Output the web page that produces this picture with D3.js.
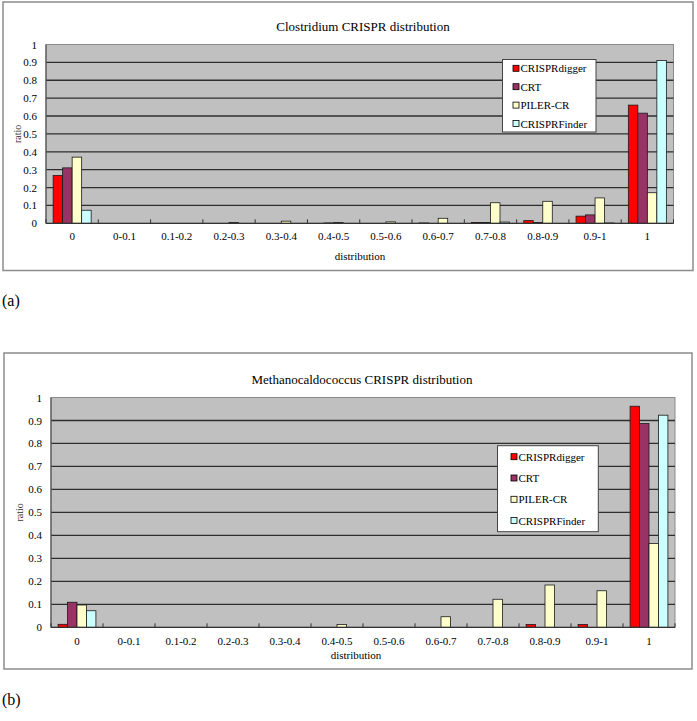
<!DOCTYPE html>
<html>
<head>
<meta charset="utf-8">
<script src="https://cdnjs.cloudflare.com/ajax/libs/d3/7.8.5/d3.min.js"></script>
<style>
  body { margin: 0; background: #ffffff; }
  svg { display: block; }
  svg text { font-family: "Liberation Serif", "DejaVu Serif", serif; }
</style>
</head>
<body>
<div id="main"></div>
<script>
// categories on the x axis (shared by both panels)
const categories = ['0', '0-0.1', '0.1-0.2', '0.2-0.3', '0.3-0.4', '0.4-0.5',
                    '0.5-0.6', '0.6-0.7', '0.7-0.8', '0.8-0.9', '0.9-1', '1'];
const seriesNames = ['CRISPRdigger', 'CRT', 'PILER-CR', 'CRISPRFinder'];
const seriesColors = ['#ff0000', '#993366', '#ffffcc', '#ccffff'];

// (a) Clostridium
const clostridiumDigger = [0.267, 0, 0, 0, 0, 0, 0, 0.002, 0.005, 0.015, 0.04, 0.661];
const clostridiumCrt    = [0.31, 0, 0, 0, 0, 0.002, 0, 0, 0.005, 0.005, 0.047, 0.616];
const clostridiumPiler  = [0.37, 0, 0, 0.005, 0.012, 0.005, 0.008, 0.028, 0.115, 0.123, 0.142, 0.171];
const clostridiumFinder = [0.073, 0, 0, 0, 0, 0, 0, 0, 0.007, 0, 0.002, 0.91];

// (b) Methanocaldococcus
const methanoDigger = [0.013, 0, 0, 0, 0, 0, 0, 0, 0, 0.012, 0.012, 0.962];
const methanoCrt    = [0.109, 0, 0, 0, 0, 0, 0, 0, 0, 0, 0, 0.887];
const methanoPiler  = [0.097, 0, 0, 0, 0, 0.012, 0, 0.046, 0.122, 0.184, 0.159, 0.365];
const methanoFinder = [0.072, 0, 0, 0, 0, 0, 0, 0, 0, 0, 0, 0.923];

const FONT = '"Liberation Serif", "DejaVu Serif", serif';

const svg = d3.select('#main').append('svg')
  .attr('width', 697)
  .attr('height', 721);

function drawPanel(p) {
  const g = svg.append('g');

  g.append('rect')
    .attr('x', p.frame[0]).attr('y', p.frame[1])
    .attr('width', p.frame[2] - p.frame[0])
    .attr('height', p.frame[3] - p.frame[1])
    .attr('fill', '#ffffff')
    .attr('stroke', '#8c8c8c')
    .attr('stroke-width', 1.5);

  const x = d3.scaleBand().domain(categories).range([p.left, p.right]);
  const xs = d3.scaleBand().domain(seriesNames)
    .range([0, x.bandwidth()])
    .paddingOuter(0.75);
  const y = d3.scaleLinear().domain([0, 1]).range([p.bottom, p.top]);

  // plot area
  g.append('rect')
    .attr('x', p.left).attr('y', p.top)
    .attr('width', p.right - p.left)
    .attr('height', p.bottom - p.top)
    .attr('fill', '#c0c0c0')
    .attr('stroke', '#8a8a8a')
    .attr('stroke-width', 1);

  g.selectAll('.grid')
    .data(y.ticks(10).filter(d => d > 0 && d < 1))
    .enter().append('line')
      .attr('class', 'grid')
      .attr('x1', p.left).attr('x2', p.right)
      .attr('y1', d => y(d)).attr('y2', d => y(d))
      .attr('stroke', '#2e2e2e')
      .attr('stroke-width', 1.3);

  // bars
  const rows = [];
  p.series.forEach((vals, si) => {
    vals.forEach((v, ci) => rows.push({ s: seriesNames[si], c: categories[ci], v, color: seriesColors[si] }));
  });
  g.selectAll('.bar')
    .data(rows.filter(d => d.v > 0))
    .enter().append('rect')
      .attr('class', 'bar')
      .attr('x', d => x(d.c) + xs(d.s))
      .attr('y', d => y(d.v))
      .attr('width', xs.bandwidth())
      .attr('height', d => y(0) - y(d.v))
      .attr('fill', d => d.color)
      .attr('stroke', '#1a1a1a')
      .attr('stroke-width', 0.8);

  // axis lines
  g.append('line')
    .attr('x1', p.left).attr('x2', p.right)
    .attr('y1', y(0)).attr('y2', y(0))
    .attr('stroke', '#333333').attr('stroke-width', 1.3);
  g.append('line')
    .attr('x1', p.left).attr('x2', p.left)
    .attr('y1', p.top).attr('y2', p.bottom)
    .attr('stroke', '#555555').attr('stroke-width', 1.2);
  g.selectAll('.xtick')
    .data(d3.range(categories.length + 1))
    .enter().append('line')
      .attr('class', 'xtick')
      .attr('x1', i => p.left + i * x.step())
      .attr('x2', i => p.left + i * x.step())
      .attr('y1', y(0) - 4).attr('y2', y(0))
      .attr('stroke', '#333333').attr('stroke-width', 1);

  const yAxis = g.append('g')
    .attr('transform', `translate(${p.left},0)`)
    .call(d3.axisLeft(y).ticks(10).tickSize(0).tickPadding(9).tickFormat(d3.format('~g')));
  yAxis.attr('font-family', null);
  yAxis.select('.domain').remove();
  yAxis.selectAll('text')
    .style('font-family', FONT).attr('font-size', 11).attr('fill', '#000');

  const xAxis = g.append('g')
    .attr('transform', `translate(0,${p.bottom})`)
    .call(d3.axisBottom(x).tickSize(0).tickPadding(p.xPad));
  xAxis.attr('font-family', null);
  xAxis.select('.domain').remove();
  xAxis.selectAll('text')
    .style('font-family', FONT).attr('font-size', 11).attr('fill', '#000');

  // titles
  g.append('text')
    .attr('x', p.titleX).attr('y', p.titleY)
    .attr('text-anchor', 'middle')
    .style('font-family', FONT).attr('font-size', 13)
    .text(p.title);
  g.append('text')
    .attr('x', p.xLabelX).attr('y', p.xLabelY)
    .attr('text-anchor', 'middle')
    .style('font-family', FONT).attr('font-size', 11)
    .text('distribution');
  g.append('text')
    .attr('transform', `translate(${p.yLabelX},${(p.top + p.bottom) / 2}) rotate(-90)`)
    .attr('text-anchor', 'middle')
    .style('font-family', FONT).attr('font-size', 10)
    .attr('fill', '#333')
    .text('ratio');

  // legend
  const lg = g.append('g');
  lg.append('rect')
    .attr('x', p.legend[0]).attr('y', p.legend[1])
    .attr('width', p.legend[2] - p.legend[0])
    .attr('height', p.legend[3] - p.legend[1])
    .attr('fill', '#ffffff')
    .attr('stroke', '#444')
    .attr('stroke-width', 1);
  const item = lg.selectAll('.legend-item')
    .data(seriesNames)
    .enter().append('g')
      .attr('class', 'legend-item')
      .attr('transform', (d, i) => `translate(${p.legendSwatchX},${p.legendRow0 + i * p.legendStep})`);
  item.append('rect')
    .attr('x', 0).attr('y', -3).attr('width', 6).attr('height', 6)
    .attr('fill', (d, i) => seriesColors[i])
    .attr('stroke', '#000').attr('stroke-width', 0.8);
  item.append('text')
    .attr('x', 7.5).attr('y', 4)
    .style('font-family', FONT).attr('font-size', 11)
    .text(d => d);

  g.append('text')
    .attr('x', 2).attr('y', p.tagY)
    .style('font-family', FONT).attr('font-size', 16)
    .text(p.tag);
}

drawPanel({
  title: 'Clostridium CRISPR distribution',
  tag: '(a)', tagY: 306,
  series: [clostridiumDigger, clostridiumCrt, clostridiumPiler, clostridiumFinder],
  frame: [3, 2, 693, 270.5],
  left: 46, right: 673.5, top: 44.5, bottom: 223.3,
  titleX: 363, titleY: 31,
  xPad: 9, xLabelX: 360, xLabelY: 260,
  yLabelX: 21,
  legend: [502.5, 59.5, 596, 132],
  legendSwatchX: 513, legendRow0: 68.3, legendStep: 18.4
});

drawPanel({
  title: 'Methanocaldococcus CRISPR distribution',
  tag: '(b)', tagY: 705,
  series: [methanoDigger, methanoCrt, methanoPiler, methanoFinder],
  frame: [4, 353, 692, 669],
  left: 51, right: 675, top: 397.5, bottom: 627.3,
  titleX: 362, titleY: 384,
  xPad: 10, xLabelX: 356, xLabelY: 659,
  yLabelX: 23,
  legend: [497.5, 445.7, 598.3, 531.7],
  legendSwatchX: 511, legendRow0: 456.7, legendStep: 21.3
});
</script>
</body>
</html>
